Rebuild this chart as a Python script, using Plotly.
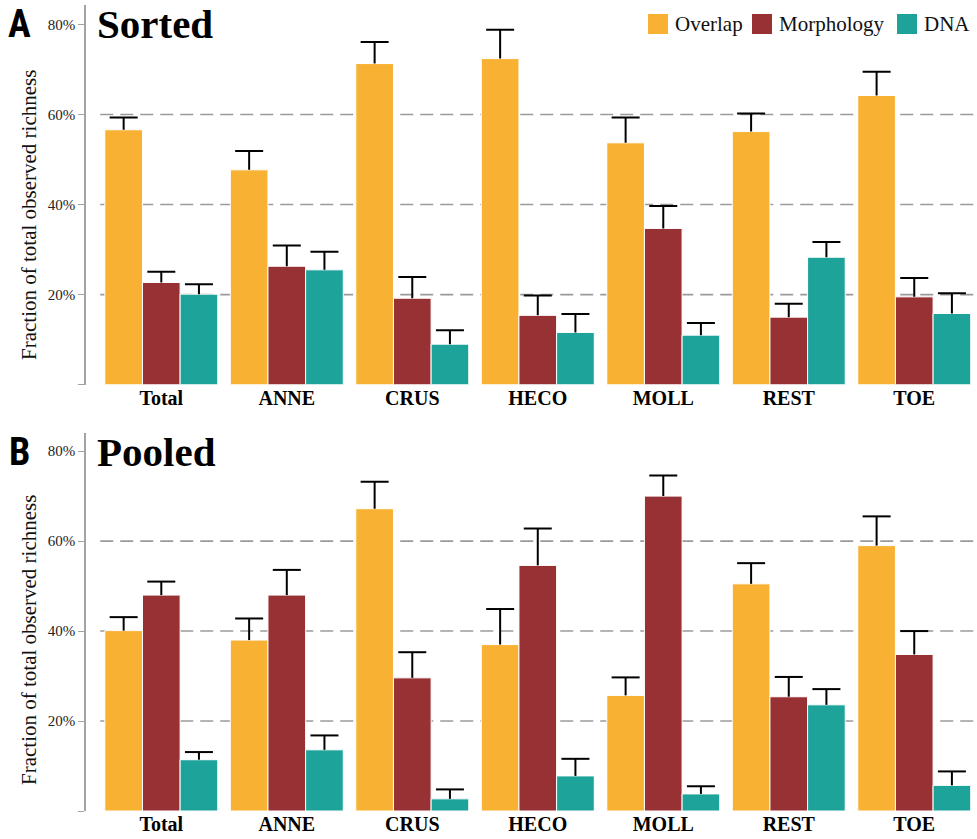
import plotly.graph_objects as go

# ---------------- data ----------------
categories = ["Total", "ANNE", "CRUS", "HECO", "MOLL", "REST", "TOE"]
series_names = ["Overlap", "Morphology", "DNA"]
colors = ["#F8B133", "#983134", "#1EA39A"]

# Panel A: Sorted (percent of total observed richness) and upper error
sorted_overlap = [56.6, 47.7, 71.3, 72.4, 53.7, 56.2, 64.2]
sorted_overlap_err = [2.7, 4.2, 4.8, 6.4, 5.6, 4.0, 5.3]
sorted_morph = [22.7, 26.3, 19.2, 15.4, 34.7, 15.0, 19.5]
sorted_morph_err = [2.4, 4.6, 4.7, 4.4, 5.0, 3.0, 4.2]
sorted_dna = [20.1, 25.5, 9.0, 11.6, 11.0, 28.3, 15.8]
sorted_dna_err = [2.2, 4.0, 3.1, 4.1, 2.7, 3.4, 4.5]

# Panel B: Pooled
pooled_overlap = [40.1, 38.0, 67.2, 37.0, 25.7, 50.5, 59.0]
pooled_overlap_err = [3.0, 4.8, 6.0, 7.9, 4.0, 4.6, 6.5]
pooled_morph = [48.0, 48.0, 29.6, 54.6, 70.0, 25.4, 34.8]
pooled_morph_err = [3.0, 5.6, 5.7, 8.2, 4.6, 4.4, 5.2]
pooled_dna = [11.4, 13.6, 2.7, 7.8, 3.8, 23.6, 5.7]
pooled_dna_err = [1.7, 3.2, 2.1, 3.8, 1.7, 3.5, 3.1]

y_tickvals = [0, 20, 40, 60, 80]
y_ticktext = ["", "20%", "40%", "60%", "80%"]
grid_vals = [20, 40, 60]
y_title = "Fraction of total observed richness"

panels = [
    dict(title="Sorted", letter="A", xa="x", ya="y",
         vals=[sorted_overlap, sorted_morph, sorted_dna],
         errs=[sorted_overlap_err, sorted_morph_err, sorted_dna_err]),
    dict(title="Pooled", letter="B", xa="x2", ya="y2",
         vals=[pooled_overlap, pooled_morph, pooled_dna],
         errs=[pooled_overlap_err, pooled_morph_err, pooled_dna_err]),
]

# ---------------- layout geometry ----------------
W, H = 977, 839
ML, MR, MT, MB = 86, 0, 5, 28
PW, PH = W - ML - MR, H - MT - MB


def px_x(p):
    return (p - ML) / PW


def px_y(p):
    return (H - MB - p) / PH


SERIF = "Liberation Serif, Times New Roman, serif"
bar_w = 0.3
offsets = [-0.3, 0.0, 0.3]

fig = go.Figure()

for pi, pan in enumerate(panels):
    for si, name in enumerate(series_names):
        xs = [i + offsets[si] for i in range(len(categories))]
        vals = pan["vals"][si]
        errs = pan["errs"][si]
        fig.add_trace(go.Bar(
            x=xs, y=vals, width=bar_w, name=name,
            marker=dict(color=colors[si], line=dict(color="white", width=1)),
            error_y=dict(type="data", symmetric=False, array=errs,
                         arrayminus=[0] * len(errs), color="black",
                         thickness=2, width=0),
            xaxis=pan["xa"], yaxis=pan["ya"], showlegend=False,
            hovertemplate="%{y:.1f}%<extra>" + name + "</extra>",
        ))
        # caps of the error bars
        fig.add_trace(go.Scatter(
            x=xs, y=[v + e for v, e in zip(vals, errs)], mode="markers",
            marker=dict(symbol="line-ew", size=20, color="black",
                        line=dict(color="black", width=2)),
            xaxis=pan["xa"], yaxis=pan["ya"], showlegend=False,
            hoverinfo="skip",
        ))

xaxis_common = dict(
    range=[-0.6, 6.5], tickmode="array",
    tickvals=list(range(len(categories))), ticktext=categories,
    showline=False, showgrid=False, zeroline=False, automargin=False,
    ticks="", ticklabelstandoff=-1,
    tickfont=dict(family=SERIF, size=20, color="black", weight="bold"),
)
yaxis_common = dict(
    tickmode="array", tickvals=y_tickvals, ticktext=y_ticktext,
    showline=True, linecolor="#a3a3a3", linewidth=1.6, automargin=False,
    ticks="outside", ticklen=6, tickcolor="#a3a3a3", tickwidth=1.4,
    showgrid=False, zeroline=False,
    tickfont=dict(family=SERIF, size=15, color="#222222"),
)

domA = [px_y(384.7), 1.0]
domB = [0.0, px_y(432.7)]

fig.update_layout(
    width=W, height=H,
    margin=dict(l=ML, r=MR, t=MT, b=MB, autoexpand=False),
    paper_bgcolor="white", plot_bgcolor="white",
    barmode="overlay",
    showlegend=False,
    xaxis=dict(xaxis_common, domain=[0, 1], anchor="y"),
    yaxis=dict(yaxis_common, domain=domA, range=[0, 84.3], anchor="x"),
    xaxis2=dict(xaxis_common, domain=[0, 1], anchor="y2"),
    yaxis2=dict(yaxis_common, domain=domB, range=[0, 84.1], anchor="x2"),
)

# dashed gridlines
for pan in panels:
    for g in grid_vals:
        fig.add_shape(type="line", xref=pan["xa"] + " domain", yref=pan["ya"],
                      x0=0.016, x1=1, y0=g, y1=g, layer="below",
                      line=dict(color="#9a9a9a", width=1.6, dash="13px,7px"))

# panel titles, letters and y-axis titles
title_y = [24, 451.5]
ytitle_y = [215, 640]
for pan, ty, yty in zip(panels, title_y, ytitle_y):
    fig.add_annotation(text="<b>" + pan["title"] + "</b>", xref="paper", yref="paper",
                       x=px_x(95), y=px_y(ty), xanchor="left", yanchor="middle",
                       showarrow=False,
                       font=dict(family=SERIF, size=41, color="black"))
    fig.add_annotation(text="<b>" + pan["letter"] + "</b>", xref="paper", yref="paper",
                       x=px_x(19), y=px_y(ty), xanchor="center", yanchor="middle",
                       showarrow=False,
                       font=dict(family="Liberation Sans Narrow, Roboto Condensed, Liberation Sans, sans-serif",
                                 size=38, color="black"))
    fig.add_annotation(text=y_title, xref="paper", yref="paper", textangle=-90,
                       x=px_x(29), y=px_y(yty), xanchor="center", yanchor="middle",
                       showarrow=False,
                       font=dict(family=SERIF, size=21, color="#111111"))

# legend (squares + labels)
legend_sq_left = [648, 752, 897]
for name, col, left in zip(series_names, colors, legend_sq_left):
    fig.add_shape(type="rect", xref="paper", yref="paper",
                  x0=px_x(left), x1=px_x(left + 20), y0=px_y(34), y1=px_y(14),
                  fillcolor=col, line=dict(color=col, width=0))
    fig.add_annotation(text=name, xref="paper", yref="paper",
                       x=px_x(left + 25), y=px_y(24), xanchor="left", yanchor="middle",
                       showarrow=False,
                       font=dict(family=SERIF, size=21, color="#111111"))

fig.write_html("out.html", config={"displayModeBar": False},
               post_script="document.body.style.margin='0';document.body.style.padding='0';")
